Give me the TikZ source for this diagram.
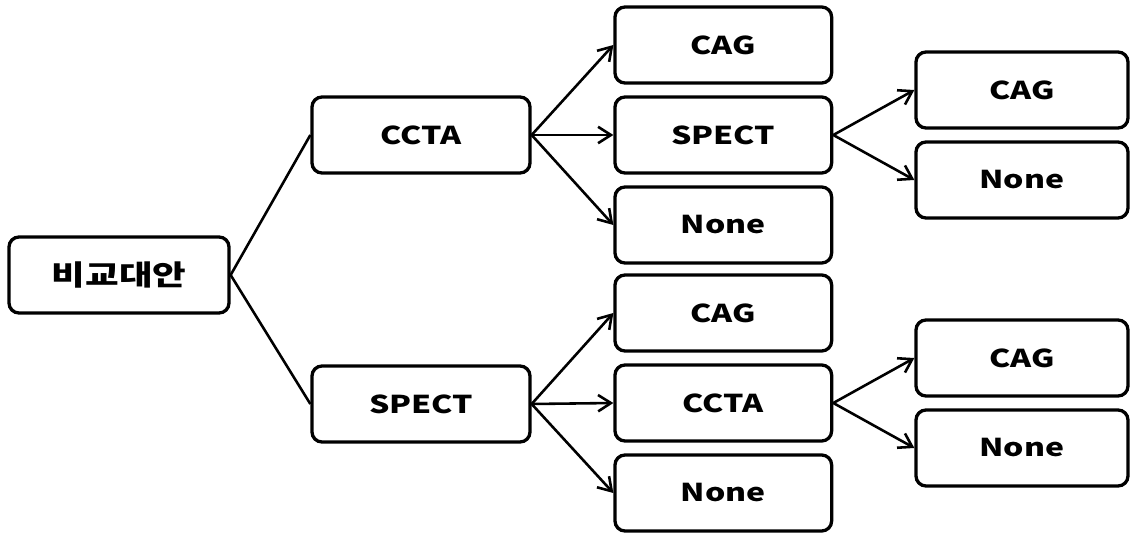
\documentclass[tikz,border=0pt]{standalone}
\usepackage{fontspec}
\setmainfont{Noto Sans CJK KR}[FakeStretch=1.3]
\usetikzlibrary{arrows.meta}

\begin{document}
\begin{tikzpicture}[
  box/.style={draw, line width=2.8pt, rounded corners=0.3cm, minimum height=2.28cm,
    inner sep=0pt, font=\fontsize{21}{25}\selectfont\bfseries},
  link/.style={line width=2.2pt},
  arr/.style={link, -{Straight Barb[length=11pt,width=14pt,line width=2.2pt]}}
]
\useasboundingbox (0,0) rectangle (33.99,-16.05);

% Root
\node[box, minimum width=6.6cm, font=\fontsize{24}{28}\selectfont\bfseries] (root) at (3.57,-8.25) {비교대안};

% First test
\node[box, minimum width=6.54cm] (ccta) at (12.63,-4.05) {CCTA};
\node[box, minimum width=6.54cm] (spect) at (12.63,-12.12) {SPECT};

% Second test
\node[box, minimum width=6.5cm] (cag1) at (21.7,-1.35) {CAG};
\node[box, minimum width=6.5cm] (spect2) at (21.7,-4.05) {SPECT};
\node[box, minimum width=6.5cm] (none1) at (21.7,-6.75) {None};

\node[box, minimum width=6.5cm] (cag2) at (21.7,-9.39) {CAG};
\node[box, minimum width=6.5cm] (ccta2) at (21.7,-12.09) {CCTA};
\node[box, minimum width=6.5cm] (none2) at (21.7,-14.79) {None};

% Third test
\node[box, minimum width=6.36cm] (cag3) at (30.66,-2.7) {CAG};
\node[box, minimum width=6.36cm] (none3) at (30.66,-5.4) {None};

\node[box, minimum width=6.36cm] (cag4) at (30.66,-10.74) {CAG};
\node[box, minimum width=6.36cm] (none4) at (30.66,-13.44) {None};

% Branches
\draw[link] (root.east) -- (ccta.west);
\draw[link] (root.east) -- (spect.west);

\draw[arr] (ccta.east) -- (cag1.west);
\draw[arr] (ccta.east) -- (spect2.west);
\draw[arr] (ccta.east) -- (none1.west);

\draw[arr] (spect.east) -- (cag2.west);
\draw[arr] (spect.east) -- (ccta2.west);
\draw[arr] (spect.east) -- (none2.west);

\draw[arr] (spect2.east) -- (cag3.west);
\draw[arr] (spect2.east) -- (none3.west);

\draw[arr] (ccta2.east) -- (cag4.west);
\draw[arr] (ccta2.east) -- (none4.west);

\end{tikzpicture}
\end{document}
